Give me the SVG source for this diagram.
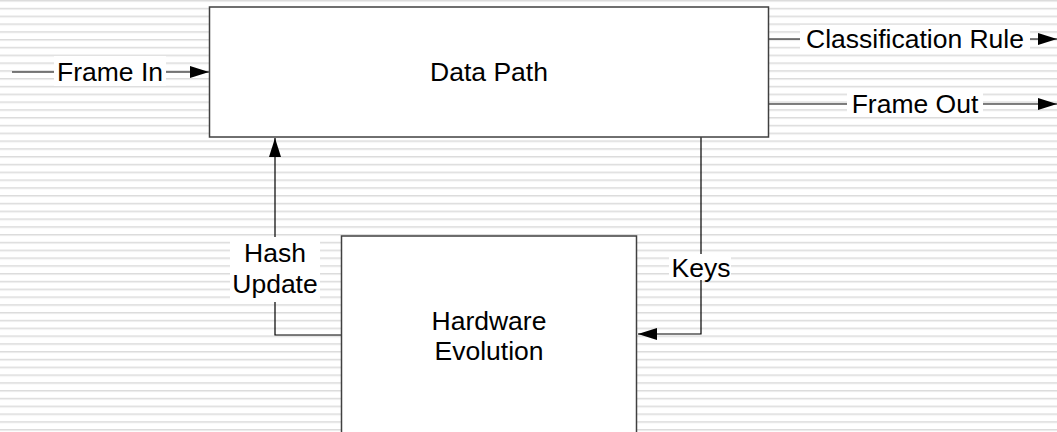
<svg xmlns="http://www.w3.org/2000/svg" width="1057" height="432" viewBox="0 0 1057 432">
<defs>
<pattern id="stripes" x="0" y="0" width="20" height="7.8" patternUnits="userSpaceOnUse">
<rect x="0" y="0" width="20" height="7.8" fill="#ffffff"/>
<rect x="0" y="0" width="20" height="1" fill="#dcdcdc"/>
<rect x="0" y="1" width="20" height="1" fill="#ebebeb"/>
</pattern>
<marker id="arr" viewBox="0 0 19 12" refX="19" refY="6" markerWidth="19" markerHeight="12" markerUnits="userSpaceOnUse" orient="auto">
<path d="M0,0 L19,6 L0,12 Z" fill="#000"/>
</marker>
<style>
.box{fill:#fff;stroke:#404040;stroke-width:1.5}
.ln{fill:none;stroke:#000;stroke-width:1.2}
.lbl{fill:#fff}
text{font-family:"Liberation Sans",Arial,sans-serif;font-size:26.5px;fill:#000}
.c{text-anchor:middle}
</style>
</defs>
<rect x="0" y="0" width="1057" height="432" fill="url(#stripes)"/>

<g id="connectors">
<line class="ln" x1="12" y1="72" x2="209" y2="72" marker-end="url(#arr)"/>
<rect class="lbl" x="54" y="56" width="112" height="30"/>
<text x="110" y="81" class="c">Frame In</text>

<line class="ln" x1="768" y1="39" x2="1057" y2="39" marker-end="url(#arr)"/>
<rect class="lbl" x="800" y="25" width="230" height="28"/>
<text x="915" y="48" class="c">Classification Rule</text>

<line class="ln" x1="768" y1="104" x2="1057" y2="104" marker-end="url(#arr)"/>
<rect class="lbl" x="847" y="89" width="136" height="28"/>
<text x="915" y="113" class="c">Frame Out</text>

<polyline class="ln" points="342,335 275,335 275,138" marker-end="url(#arr)"/>
<rect class="lbl" x="230" y="237" width="90" height="65"/>
<text x="275" y="262" class="c">Hash</text>
<text x="275" y="293" class="c">Update</text>

<polyline class="ln" points="701,137 701,334 638,334" marker-end="url(#arr)"/>
<rect class="lbl" x="669" y="254" width="62" height="26"/>
<text x="701" y="277" class="c">Keys</text>
</g>

<g id="data-path">
<rect class="box" x="209.5" y="7" width="559" height="130"/>
<text x="489" y="81" class="c">Data Path</text>
</g>

<g id="hardware-evolution">
<rect class="box" x="341.5" y="236" width="295" height="210"/>
<text x="489" y="330" class="c">Hardware</text>
<text x="489" y="360" class="c">Evolution</text>
</g>
</svg>
